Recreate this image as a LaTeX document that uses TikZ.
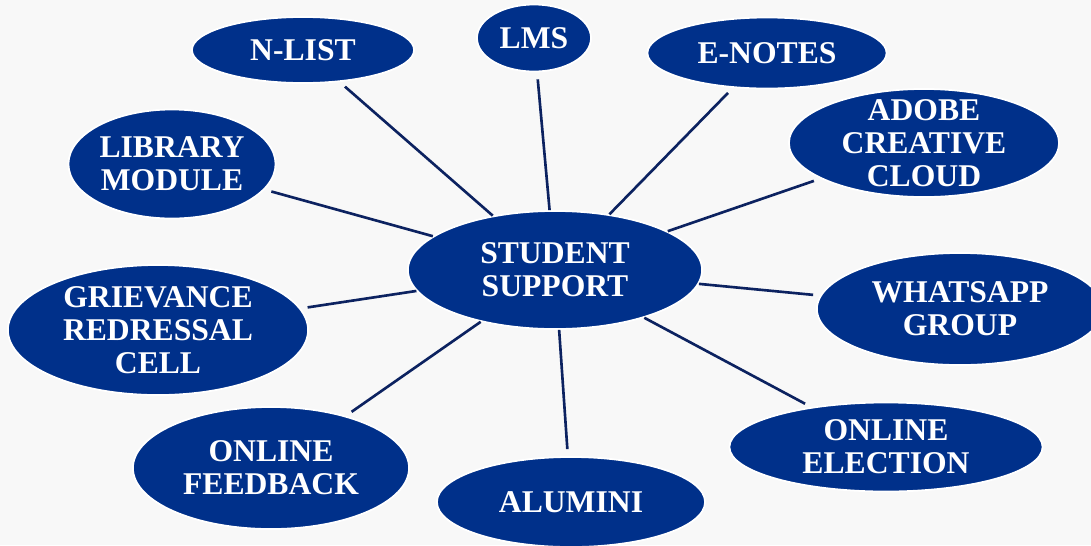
\documentclass[tikz,border=0pt]{standalone}
\usepackage{fontspec}
\setmainfont{Liberation Serif}
\usetikzlibrary{shapes.geometric}
\definecolor{bubbleblue}{RGB}{0,48,138}
\definecolor{spoke}{RGB}{12,34,96}
\definecolor{paper}{RGB}{248,248,248}
\newcommand{\bubblefont}{\fontsize{9}{9.4}\selectfont\bfseries}

\begin{document}
\begin{tikzpicture}[x=0.01cm,y=-0.01cm,
  bubble/.style={ellipse,fill=bubbleblue,draw=white,line width=0.5pt,
    text=white,font=\bubblefont,align=center,inner sep=0pt},
  spokeline/.style={draw=spoke,line width=0.75pt}]
  \fill[paper] (0,0) rectangle (1091,545);
  \useasboundingbox (0,0) rectangle (1091,545);
   \coordinate (Hub) at (555,270);
   \coordinate (Nlist) at (303,50);
   \coordinate (Lms) at (534,38);
   \coordinate (Enotes) at (767,53);
   \coordinate (Adobe) at (924,143);
   \coordinate (Library) at (172,164);
   \coordinate (Whatsapp) at (960,309);
   \coordinate (Grievance) at (158,330);
   \coordinate (Election) at (886,447);
   \coordinate (Feedback) at (271,468);
   \coordinate (Alumini) at (571,502);
  % the ring of services
  \node[bubble,minimum width=2.22cm,minimum height=0.66cm] (nlist) at (Nlist) {N-LIST};
  \node[bubble,minimum width=1.14cm,minimum height=0.67cm] (lms) at (Lms) {LMS};
  \node[bubble,minimum width=2.39cm,minimum height=0.71cm] (enotes) at (Enotes) {E-NOTES};
  \node[bubble,minimum width=2.70cm,minimum height=1.08cm,inner ysep=-4pt] (adobe) at (Adobe) {ADOBE\\CREATIVE\\CLOUD};
  \node[bubble,minimum width=2.07cm,minimum height=1.09cm] (library) at (Library) {LIBRARY\\MODULE};
  \node[bubble,minimum width=2.86cm,minimum height=1.12cm] (whatsapp) at (Whatsapp) {WHATSAPP\\GROUP};
  \node[bubble,minimum width=3.00cm,minimum height=1.30cm,inner ysep=-4pt] (grievance) at (Grievance) {GRIEVANCE\\REDRESSAL\\CELL};
  \node[bubble,minimum width=3.13cm,minimum height=0.89cm,inner ysep=-2pt] (election) at (Election) {ONLINE\\ELECTION};
  \node[bubble,minimum width=2.76cm,minimum height=1.22cm] (feedback) at (Feedback) {ONLINE\\FEEDBACK};
  \node[bubble,minimum width=2.68cm,minimum height=0.90cm] (alumini) at (Alumini) {ALUMINI};
  % hub in the middle
  \node[bubble,minimum width=2.94cm,minimum height=1.18cm] (hub) at (Hub) {STUDENT\\SUPPORT};
  \foreach \s in {nlist,lms,enotes,adobe,library,whatsapp,grievance,election,feedback,alumini}{%
    \draw[spokeline,shorten >=2pt] (hub) -- (\s);
  }
 \end{tikzpicture}
\end{document}
